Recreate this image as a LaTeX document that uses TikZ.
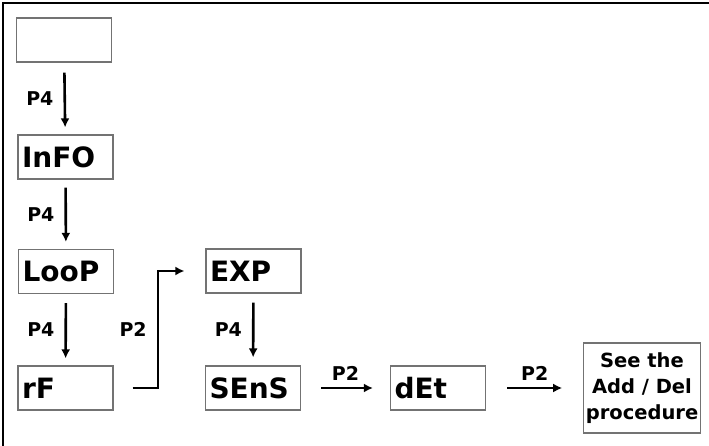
\documentclass[tikz,border=0pt]{standalone}
\usepackage{fontspec}
\setmainfont{DejaVu Sans}
\usetikzlibrary{arrows.meta}

\tikzset{
  menubox/.style={draw=black!55,line width=1.2pt,minimum height=44pt,
    text width=87pt,inner xsep=4pt,align=left,
    font=\fontsize{28}{30}\selectfont\bfseries},
  keylbl/.style={font=\fontsize{19}{22}\selectfont\bfseries,inner sep=2pt},
  arr/.style={-{Latex[length=9pt,width=9pt]},line width=2.6pt}
}

\begin{document}
\begin{tikzpicture}[x=1pt,y=-1pt]
  \useasboundingbox (0,0) rectangle (709,446);
  \draw[line width=1.6pt] (3,446) -- (3,3) -- (709,3);
  % Left-hand column
  \node[menubox] (blank) at (64,40)    {};
  \node[menubox] (InFO)  at (65.5,157) {InFO};
  \node[menubox] (LooP)  at (66,271.5) {LooP};
  \node[menubox] (rF)    at (65.5,388) {rF};
  % Right-hand part
  \node[menubox] (EXP)   at (253.5,271) {EXP};
  \node[menubox] (SEnS)  at (253,388)   {SEnS};
  \node[menubox] (dEt)   at (438,388)   {dEt};
  \node[draw=black!55,line width=1.2pt,minimum width=116pt,minimum height=90pt,
        inner sep=2pt,align=center,font=\fontsize{19.5}{26}\selectfont\bfseries]
        (Add) at (642,388) {See the\\Add / Del\\procedure};
  \coordinate (bend) at (158,0);
  % arrows
  \draw[arr,shorten <=10pt,shorten >=7pt] (blank) -- (InFO)
    node[midway,left=8pt,keylbl] {P4};
  \draw[arr,shorten <=8pt,shorten >=7pt] (InFO) -- (LooP)
    node[midway,left=8pt,keylbl] {P4};
  \draw[arr,shorten <=9pt,shorten >=7pt] (LooP) -- (rF)
    node[midway,left=8pt,keylbl] {P4};
  \draw[arr,shorten <=9pt,shorten >=8pt] (EXP) -- (SEnS)
    node[midway,left=8pt,keylbl] {P4};
  \draw[arr,shorten <=19pt,shorten >=21pt] (rF.east) -- (rF.east -| bend)
    -- (bend |- EXP.west) node[midway,left=8pt,keylbl] {P2} -- (EXP.west);
  \draw[arr,shorten <=20pt,shorten >=17pt] (SEnS) -- (dEt)
    node[midway,above=4pt,keylbl] {P2};
  \draw[arr,shorten <=21pt,shorten >=21pt] (dEt) -- (Add)
    node[midway,above=4pt,keylbl] {P2};
\end{tikzpicture}
\end{document}
